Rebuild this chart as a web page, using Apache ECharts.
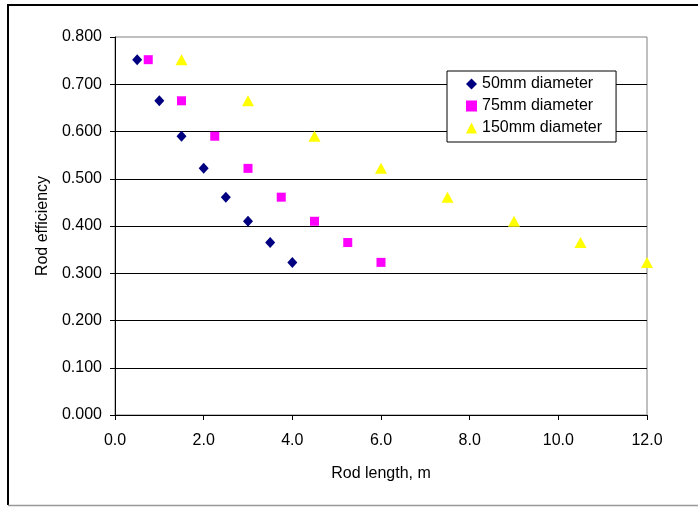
<!DOCTYPE html>
<html>
<head>
<meta charset="utf-8">
<script src="https://cdn.jsdelivr.net/npm/echarts@6/dist/echarts.min.js"></script>
<style>html,body{margin:0;padding:0;background:#fff}#c{width:698px;height:507px}</style>
</head>
<body>
<div id="c"></div>
<script>
const efficiency = [0.752, 0.665, 0.590, 0.522, 0.461, 0.410, 0.365, 0.323];
const len50 = [0.5, 1.0, 1.5, 2.0, 2.5, 3.0, 3.5, 4.0];
const len75 = [0.75, 1.5, 2.25, 3.0, 3.75, 4.5, 5.25, 6.0];
const len150 = [1.5, 3.0, 4.5, 6.0, 7.5, 9.0, 10.5, 12.0];
const seriesNames = ['50mm diameter', '75mm diameter', '150mm diameter'];

const pair = (xs) => xs.map((x, i) => [x, efficiency[i]]);
const font = 'Liberation Sans, Arial, sans-serif';

const chart = echarts.init(document.getElementById('c'), null, {renderer: 'canvas'});
chart.setOption({
  animation: false,
  backgroundColor: '#fff',
  textStyle: {fontFamily: font},
  graphic: [
    {type: 'line', shape: {x1: 7, y1: 5, x2: 698, y2: 5}, style: {stroke: '#000', lineWidth: 2}, z: -1},
    {type: 'line', shape: {x1: 8, y1: 4, x2: 8, y2: 505}, style: {stroke: '#000', lineWidth: 2}, z: -1},
    {type: 'line', shape: {x1: 8, y1: 505.5, x2: 698, y2: 505.5}, style: {stroke: '#999', lineWidth: 1.5}, z: -1}
  ],
  grid: {left: 115, right: 51, top: 37, bottom: 92, show: true, borderColor: '#808080', borderWidth: 1, backgroundColor: 'transparent'},
  legend: {
    orient: 'vertical', left: 447, top: 71,
    backgroundColor: '#fff', borderColor: '#000', borderWidth: 1,
    padding: [5, 14, 6, 19], itemGap: 6, itemWidth: 11, itemHeight: 11,
    textStyle: {fontSize: 16, color: '#000', fontFamily: font},
    data: seriesNames
  },
  xAxis: {
    type: 'value', min: 0, max: 12, interval: 2,
    name: 'Rod length, m', nameLocation: 'middle', nameGap: 51,
    nameTextStyle: {fontSize: 16, color: '#000', fontFamily: font},
    axisLine: {show: true, onZero: false, lineStyle: {color: '#000', width: 1}},
    axisTick: {show: true, inside: false, length: 5, lineStyle: {color: '#000'}},
    axisLabel: {formatter: v => v.toFixed(1), fontSize: 16, color: '#000', margin: 18, fontFamily: font},
    splitLine: {show: false}
  },
  yAxis: {
    type: 'value', min: 0, max: 0.8, interval: 0.1,
    name: 'Rod efficiency', nameLocation: 'middle', nameGap: 64, nameRotate: 90,
    nameTextStyle: {fontSize: 16, color: '#000', fontFamily: font},
    axisLine: {show: true, lineStyle: {color: '#000', width: 1}},
    axisTick: {show: true, inside: false, length: 5, lineStyle: {color: '#000'}},
    axisLabel: {formatter: v => v.toFixed(3), fontSize: 16, color: '#000', margin: 13, fontFamily: font},
    splitLine: {show: true, showMaxLine: false, lineStyle: {color: '#000', width: 1}}
  },
  series: [
    {name: seriesNames[0], type: 'scatter', symbol: 'diamond', symbolSize: [10, 11], itemStyle: {color: '#000080', opacity: 1}, data: pair(len50), z: 5},
    {name: seriesNames[1], type: 'scatter', symbol: 'rect', symbolSize: 9, itemStyle: {color: '#ff00ff', opacity: 1}, data: pair(len75), z: 4},
    {name: seriesNames[2], type: 'scatter', symbol: 'triangle', symbolSize: [12, 11], itemStyle: {color: '#ffff00', opacity: 1}, data: pair(len150), z: 3}
  ]
});
</script>
</body>
</html>
